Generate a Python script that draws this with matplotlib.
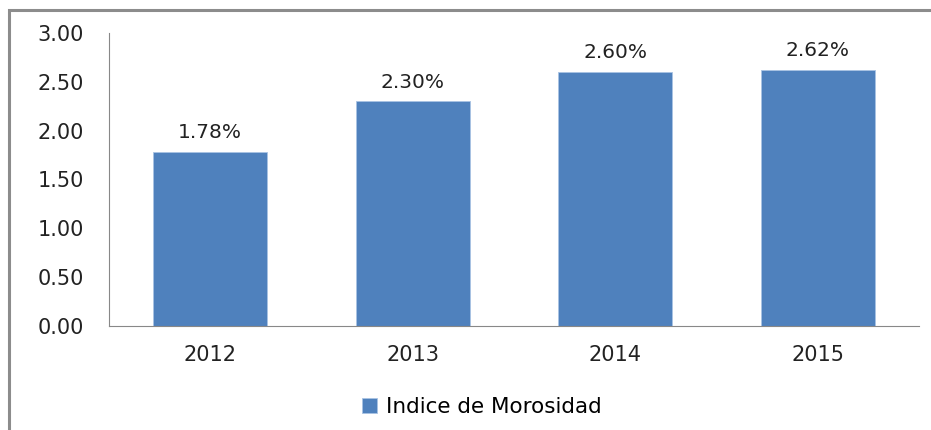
import matplotlib.pyplot as plt
from matplotlib.patches import Rectangle

years = ["2012", "2013", "2014", "2015"]
morosidad = [1.78, 2.30, 2.60, 2.62]
yticks = [0.0, 0.5, 1.0, 1.5, 2.0, 2.5, 3.0]

W, H = 931, 430
fig = plt.figure(figsize=(W / 100, H / 100), dpi=100)
plt.rcParams["font.family"] = ["DejaVu Sans"]

# outer chart frame (goes off the right and bottom edges)
fig.patches.append(Rectangle((9 / W, -0.05), 1.0, 1 - 10 / H + 0.05,
                             transform=fig.transFigure, fill=False,
                             edgecolor="#8c8c8c", linewidth=2.2))

ax = fig.add_axes([109 / W, 1 - 326 / H, (919 - 109) / W, (326 - 33) / H])
x = range(len(years))
bars = ax.bar(x, morosidad, width=0.565, color="#4F81BD", edgecolor="#a9c3e3",
              linewidth=0.6, label="Indice de Morosidad")

for b, v in zip(bars, morosidad):
    ax.text(b.get_x() + b.get_width() / 2, v + 0.1, f"{v:.2f}%",
            ha="center", va="bottom", fontsize=14.5, color="#222222")

ax.set_xlim(-0.5, 3.5)
ax.set_ylim(0, 3.0)
ax.set_yticks(yticks)
ax.set_yticklabels([f"{t:.2f}" for t in yticks])
ax.set_xticks(list(x))
ax.set_xticklabels(years)
ax.tick_params(axis="y", length=0, pad=18, labelsize=15, labelcolor="#222222")
ax.tick_params(axis="x", length=0, pad=14, labelsize=15, labelcolor="#222222")

for s in ["top", "right"]:
    ax.spines[s].set_visible(False)
ax.spines["left"].set_color("#888888")
ax.spines["bottom"].set_color("#888888")

fig.legend(loc="center", bbox_to_anchor=(482 / W, 1 - 407 / H), frameon=False,
           fontsize=15.5, handlelength=0.7, handleheight=0.7, handletextpad=0.4)

fig.savefig("out.png", dpi=100)
